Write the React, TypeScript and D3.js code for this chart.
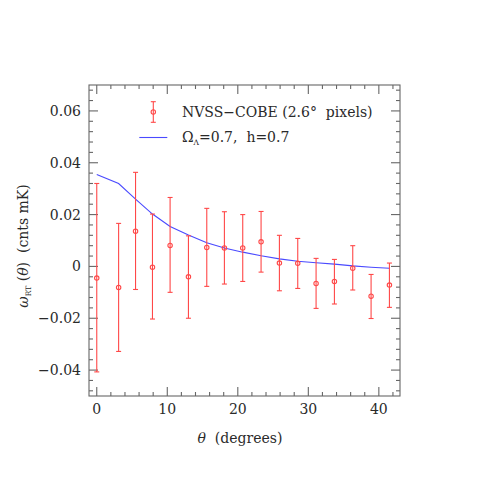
import React from 'react';
import * as d3 from 'd3';

// data
const theta = [0, 3.1, 5.5, 7.9, 10.4, 13.0, 15.6, 18.1, 20.7, 23.3, 25.9, 28.5, 31.1, 33.7, 36.3, 38.9, 41.5];
const wObs = [-0.0045, -0.0081, 0.0136, -0.0003, 0.0081, -0.0040, 0.0073, 0.0071, 0.0071, 0.0095, 0.0013, 0.0012, -0.0066, -0.0058, -0.0007, -0.0115, -0.0072];
const errHi = [0.0320, 0.0166, 0.0363, 0.0202, 0.0266, 0.0118, 0.0224, 0.0211, 0.0200, 0.0212, 0.0120, 0.0108, 0.0031, 0.0027, 0.0080, -0.0031, 0.0013];
const errLo = [-0.0407, -0.0328, -0.0089, -0.0203, -0.0100, -0.0200, -0.0077, -0.0068, -0.0058, -0.0022, -0.0094, -0.0085, -0.0162, -0.0145, -0.0091, -0.0201, -0.0158];
const wModel = [0.0355, 0.0320, 0.0260, 0.0202, 0.0154, 0.0121, 0.0091, 0.0071, 0.0055, 0.0041, 0.0029, 0.0020, 0.0014, 0.0009, 0.0002, -0.0003, -0.0007];
const xTicks = [0, 10, 20, 30, 40];
const yTicks = [-0.04, -0.02, 0, 0.02, 0.04, 0.06];

const W = 485, H = 485;
const left = 89, right = 400, top = 85, bottom = 396;
const red = '#ff4848';
const blue = '#4a4aff';
const frame = '#666';
const ink = '#2a2a2a';
const font = 'DejaVu Serif';

export default function App() {
  const x = d3.scaleLinear().domain([-1.1, 43]).range([left, right]);
  const y = d3.scaleLinear().domain([-0.05, 0.07]).range([bottom, top]);

  const xMinor = d3.range(0, 43, 2);
  const yMinor = d3.range(-0.048, 0.0701, 0.004);

  const line = d3.line<number>().x((d, i) => x(theta[i])).y(d => y(d));

  const ticks = [];
  xMinor.forEach((v, i) => {
    const major = xTicks.some(t => Math.abs(t - v) < 1e-6);
    const len = major ? 9 : 4;
    ticks.push(<line key={'xb' + i} x1={x(v)} x2={x(v)} y1={bottom} y2={bottom - len} />);
    ticks.push(<line key={'xt' + i} x1={x(v)} x2={x(v)} y1={top} y2={top + len} />);
  });
  yMinor.forEach((v, i) => {
    const major = yTicks.some(t => Math.abs(t - v) < 1e-6);
    const len = major ? 9 : 4;
    ticks.push(<line key={'yl' + i} x1={left} x2={left + len} y1={y(v)} y2={y(v)} />);
    ticks.push(<line key={'yr' + i} x1={right} x2={right - len} y1={y(v)} y2={y(v)} />);
  });

  return (
    <svg width={W} height={H} style={{ position: 'absolute', left: 0, top: 0, background: '#fff' }}
      fontFamily={font}>
      <g stroke={frame} strokeWidth={1.1}>
        {ticks}
        <rect x={left} y={top} width={right - left} height={bottom - top} fill="none" />
      </g>

      {/* tick labels */}
      <g fontSize={14} fill={ink}>
        {xTicks.map(t => (
          <text key={t} x={x(t)} y={414} textAnchor="middle">{t}</text>
        ))}
        {yTicks.map(t => (
          <text key={t} x={81} y={y(t) + 5} textAnchor="end">
            {t === 0 ? '0' : (t < 0 ? '\u2212' : '') + Math.abs(t).toFixed(2)}
          </text>
        ))}
      </g>

      {/* axis titles */}
      <text x={240} y={443} fontSize={14} fill={ink} textAnchor="middle" style={{ whiteSpace: 'pre' }}>
        <tspan fontStyle="italic">θ</tspan>{'  (degrees)'}
      </text>
      <text transform="translate(28,246) rotate(-90)" fontSize={14} fill={ink} textAnchor="middle"
        style={{ whiteSpace: 'pre' }}>
        <tspan fontStyle="italic">ω</tspan>
        <tspan fontSize={7.5} dy={3}>RT</tspan>
        <tspan dy={-3}>{' ('}</tspan>
        <tspan fontStyle="italic">θ</tspan>
        <tspan>{')  (cnts mK)'}</tspan>
      </text>

      {/* model */}
      <path d={line(wModel) || ''} fill="none" stroke={blue} strokeWidth={1.1} />

      {/* data */}
      <g stroke={red} strokeWidth={1.1} fill="none">
        {theta.map((t, i) => (
          <g key={i}>
            <line x1={x(t)} x2={x(t)} y1={y(errLo[i])} y2={y(errHi[i])} />
            <line x1={x(t) - 2.5} x2={x(t) + 2.5} y1={y(errLo[i])} y2={y(errLo[i])} />
            <line x1={x(t) - 2.5} x2={x(t) + 2.5} y1={y(errHi[i])} y2={y(errHi[i])} />
            <circle cx={x(t)} cy={y(wObs[i])} r={2.2} />
          </g>
        ))}
      </g>

      {/* legend */}
      <g stroke={red} strokeWidth={1.1} fill="none">
        <line x1={153.3} x2={153.3} y1={101.7} y2={122.3} />
        <line x1={150.8} x2={155.8} y1={101.7} y2={101.7} />
        <line x1={150.8} x2={155.8} y1={122.3} y2={122.3} />
        <circle cx={153.3} cy={112} r={2.2} />
      </g>
      <text x={182} y={117} fontSize={14} fill={ink} style={{ whiteSpace: 'pre' }}>
        {'NVSS\u2212COBE (2.6°  pixels)'}
      </text>
      <line x1={139.3} x2={167.3} y1={137.5} y2={137.5} stroke={blue} strokeWidth={1.1} />
      <text x={182} y={142} fontSize={14} fill={ink} style={{ whiteSpace: 'pre' }}>
        <tspan>Ω</tspan>
        <tspan fontSize={7.5} dy={3}>Λ</tspan>
        <tspan dy={-3}>{'=0.7,  h=0.7'}</tspan>
      </text>
    </svg>
  );
}
